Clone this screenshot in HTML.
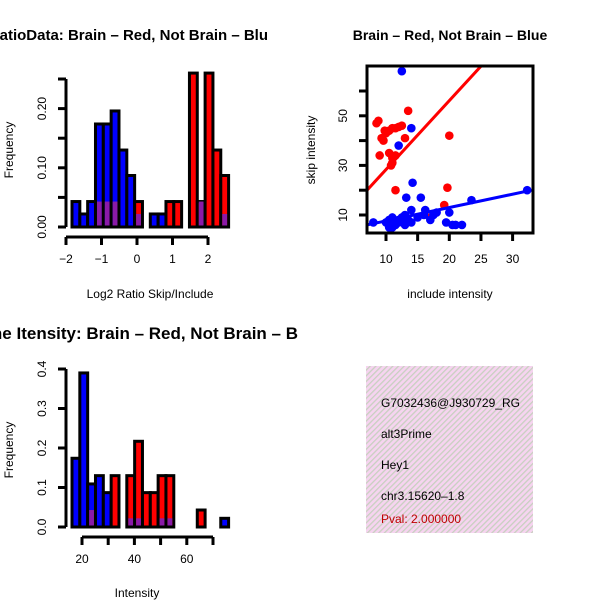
<!DOCTYPE html>
<html><head><meta charset="utf-8"><style>
html,body{margin:0;padding:0;background:#fff}
svg{display:block;font-family:"Liberation Sans",sans-serif}
</style></head><body>
<svg id="c" width="600" height="600" xmlns="http://www.w3.org/2000/svg">
<defs>
<clipPath id="left"><rect x="0" y="0" width="300" height="600"/></clipPath>
<clipPath id="sc"><rect x="367" y="66" width="166" height="167"/></clipPath>
<pattern id="hatch" width="4" height="4" patternUnits="userSpaceOnUse" patternTransform="rotate(45)">
<rect width="4" height="4" fill="#f6d4f0"/><rect width="1.3" height="4" fill="#c8d0c0"/>
</pattern>
</defs>
<g clip-path="url(#left)">
<text x="268" y="40" text-anchor="end" font-size="15" font-weight="bold">Log2 RatioData: Brain – Red, Not Brain – Blu</text>
<text x="298" y="339" text-anchor="end" font-size="17" font-weight="bold">Gene Itensity: Brain – Red, Not Brain – B</text>
</g>
<text x="450" y="40" text-anchor="middle" font-size="14" font-weight="bold">Brain – Red, Not Brain – Blue</text>
<g id="h1"></g>
<g id="h2"></g>
<g id="sp"></g>
<g>
<rect x="366" y="366" width="167" height="167" fill="url(#hatch)"/>
<svg x="366" y="366" width="167" height="167">
<text x="15" y="41" font-size="12">G7032436@J930729_RG</text>
<text x="15" y="72" font-size="12">alt3Prime</text>
<text x="15" y="103" font-size="12">Hey1</text>
<text x="15" y="134" font-size="12">chr3.15620–1.8</text>
<text x="15" y="157" font-size="12" fill="#c00000">Pval: 2.000000</text>
</svg>
</g>
</svg>
<script>
const ratioBlue = [0.043,0.022,0.043,0.174,0.174,0.196,0.13,0.087,0,0,0.022,0.022,0,0,0,0,0,0,0,0];
const ratioRed  = [0,0,0,0,0,0,0,0,0.043,0,0,0,0.043,0.043,0,0.26,0.043,0.26,0.13,0.087];
const ratioPurple=[0,0,0,0.043,0.043,0.043,0,0,0.022,0,0,0,0,0,0,0,0.043,0,0,0.022];
const ratioYTicks = ["0.00","0.05","0.10","0.15","0.20","0.25"];
const ratioYLabels = ["0.00","","0.10","","0.20",""];
const ratioXTicks = [-2,-1,0,1,2];
const intBlue = [0.174,0.39,0.109,0.13,0.087,0,0,0,0,0,0,0,0,0,0,0,0,0,0,0.022];
const intRed  = [0,0,0,0,0,0.13,0,0.13,0.217,0.087,0.087,0.13,0.13,0,0,0,0.043,0,0,0];
const intPurple=[0,0,0.043,0,0,0,0,0.022,0.022,0,0,0.022,0.022,0,0,0,0,0,0,0];
const intYTicks = [0,0.1,0.2,0.3,0.4];
const intYLabels = ["0.0","0.1","0.2","0.3","0.4"];
const intXTicks = [20,30,40,50,60,70];
const intXLabels = ["20","","40","","60",""];
const redX = [8.5,8.8,9,9.3,9.6,9.8,10,10.5,11,11.5,12,12.5,10.5,11,11,10.8,11.5,13,13.5,20,11.5,19.7,19.2,17];
const redY = [47,48,34,41,40,44,43,44,45,45,45.5,46,35,33,31,30,34,41,52,42,20,21,14,9];
const blueX = [12.5,14,12,14.2,13.2,15.5,23.5,32.3,20,16.2,18,8,10,10.5,11,11.5,12,12.5,13,13.5,14,14,15,16,17,17.5,19.5,20.5,21,22,11,12,13,10.5];
const blueY = [68,45,38,23,17,17,16,20,11,12,11,7,7,8,9,6,8,9,10,8,12,7,9,10,8,10,7,6,6,6,5,7,6,5];
const redLine = [[7,20],[25,70]];
const blueLine = [[7,6],[33,20]];
const scXTicks=[10,15,20,25,30];
const scYTicks=[10,20,30,40,50,60];
const scYLabels=["10","","30","","50",""];

const NS="http://www.w3.org/2000/svg";
function mk(parent,tag,attrs){const e=document.createElementNS(NS,tag);for(const k in attrs)e.setAttribute(k,attrs[k]);parent.appendChild(e);return e;}

function hist(g,blue,red,purple,yTicks,yLabels,yScale,xTicks,xLabels,xScale,x0,bw,yAxisX,xAxisY,prefix){
  const base=yScale(0);
  for(let i=0;i<blue.length;i++){
    const v=Math.max(blue[i],red[i],purple[i]);
    if(v<=0)continue;
    const x=x0+i*bw;
    const col=blue[i]>0?"#0000ff":(red[i]>0?"#ff0000":"#9020b0");
    const r=mk(g,"rect",{x:x,y:yScale(v),width:bw,height:base-yScale(v),fill:col,stroke:"#000","stroke-width":3});
    
    
    if(purple[i]>0){
      const p=mk(g,"rect",{x:x+1.5,y:yScale(purple[i]),width:bw-3,height:base-yScale(purple[i])-1.5,fill:"#8a1aa8"});
      
      
    }
  }
  const ya=mk(g,"line",{x1:yAxisX,x2:yAxisX,y1:yScale(+yTicks[0]),y2:yScale(+yTicks[yTicks.length-1]),stroke:"#000","stroke-width":3});
  
  
  yTicks.forEach((t,i)=>{
    const y=yScale(+t);
    mk(g,"line",{x1:yAxisX-8,x2:yAxisX,y1:y,y2:y,stroke:"#000","stroke-width":3});
    if(yLabels[i]){
      const tx=mk(g,"text",{x:0,y:0,transform:`translate(${yAxisX-20},${y}) rotate(-90)`,"text-anchor":"middle","font-size":12});
      tx.textContent=yLabels[i];
      
      
    }
  });
  const xa=mk(g,"line",{x1:xScale(xTicks[0]),x2:xScale(xTicks[xTicks.length-1]),y1:xAxisY,y2:xAxisY,stroke:"#000","stroke-width":3});
  
  
  xTicks.forEach((t,i)=>{
    const x=xScale(t);
    mk(g,"line",{x1:x,x2:x,y1:xAxisY,y2:xAxisY+8,stroke:"#000","stroke-width":3});
    if(xLabels[i]){
      const tx=mk(g,"text",{x:x,y:xAxisY+26,"text-anchor":"middle","font-size":12});
      tx.textContent=xLabels[i];
      
      
    }
  });
}

const h1=document.getElementById("h1");
hist(h1,ratioBlue,ratioRed,ratioPurple,ratioYTicks,ratioYLabels,v=>227-v*592,ratioXTicks,ratioXTicks.map(t=>t<0?"−"+(-t):""+t),v=>137+v*35.5,72,7.83,66,237,"ratio");
let t=mk(h1,"text",{x:150,y:298,"text-anchor":"middle","font-size":12});t.textContent="Log2 Ratio Skip/Include";


t=mk(h1,"text",{transform:"translate(13,150) rotate(-90)","text-anchor":"middle","font-size":12});t.textContent="Frequency";



const h2=document.getElementById("h2");
hist(h2,intBlue,intRed,intPurple,intYTicks,intYLabels,v=>527-v*395,intXTicks,intXLabels,v=>82+(v-20)*2.62,72,7.83,66,537,"intensity");
t=mk(h2,"text",{x:137,y:597,"text-anchor":"middle","font-size":12});t.textContent="Intensity";


t=mk(h2,"text",{transform:"translate(13,450) rotate(-90)","text-anchor":"middle","font-size":12});t.textContent="Frequency";



const sp=document.getElementById("sp");
const sx=v=>386+(v-10)*6.33, sy=v=>215-(v-10)*2.48;
const pg=mk(sp,"g",{"clip-path":"url(#sc)"});
redX.forEach((x,i)=>{const c=mk(pg,"circle",{cx:sx(x),cy:sy(redY[i]),r:4.3,fill:"#ff0000"});
  
  });
blueX.forEach((x,i)=>{const c=mk(pg,"circle",{cx:sx(x),cy:sy(blueY[i]),r:4.3,fill:"#0000ff"});
  
  });
let l=mk(pg,"line",{x1:sx(redLine[0][0]),y1:sy(redLine[0][1]),x2:sx(redLine[1][0]),y2:sy(redLine[1][1]),stroke:"#ff0000","stroke-width":3});


l=mk(pg,"line",{x1:sx(blueLine[0][0]),y1:sy(blueLine[0][1]),x2:sx(blueLine[1][0]),y2:sy(blueLine[1][1]),stroke:"#0000ff","stroke-width":3});


const box=mk(sp,"rect",{x:367,y:66,width:166,height:167,fill:"none",stroke:"#000","stroke-width":3});


scXTicks.forEach(v=>{const x=sx(v);mk(sp,"line",{x1:x,x2:x,y1:233,y2:241,stroke:"#000","stroke-width":3});
  const tx=mk(sp,"text",{x:x,y:263,"text-anchor":"middle","font-size":12});tx.textContent=v;
  
  });
scYTicks.forEach((v,i)=>{const y=sy(v);mk(sp,"line",{x1:359,x2:367,y1:y,y2:y,stroke:"#000","stroke-width":3});
  if(scYLabels[i]){const tx=mk(sp,"text",{transform:`translate(347,${y}) rotate(-90)`,"text-anchor":"middle","font-size":12});tx.textContent=scYLabels[i];
  
  }});
t=mk(sp,"text",{x:450,y:298,"text-anchor":"middle","font-size":12});t.textContent="include intensity";


t=mk(sp,"text",{transform:"translate(315,150) rotate(-90)","text-anchor":"middle","font-size":12});t.textContent="skip intensity";


</script>
</body></html>
